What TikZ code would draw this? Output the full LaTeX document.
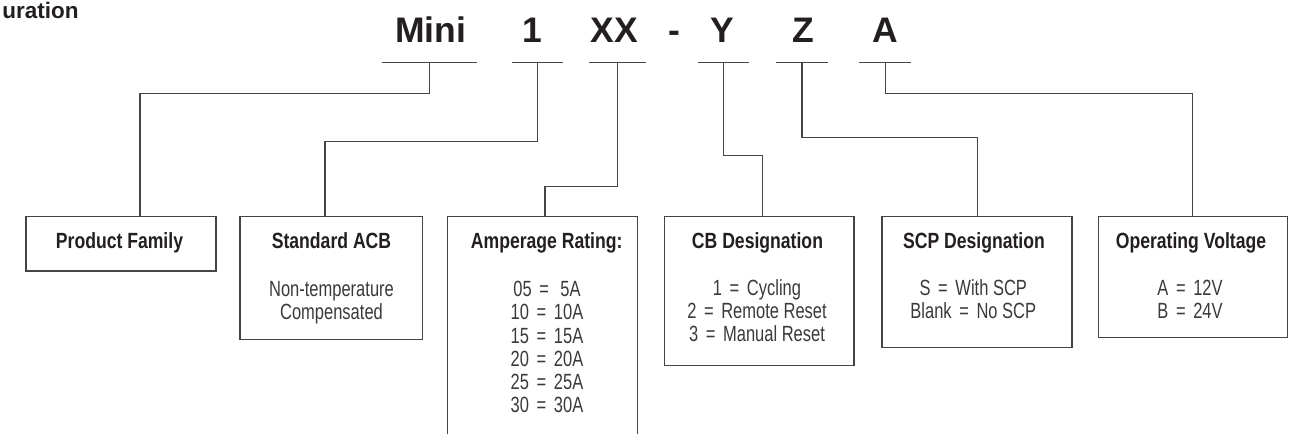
\documentclass[tikz,border=0pt]{standalone}
\usepackage{fontspec}
\setmainfont{Liberation Sans}
\newfontfamily\titlecond[FakeStretch=0.8]{Liberation Sans}
\newfontfamily\bodycond[FakeStretch=0.75]{Liberation Sans}
\definecolor{ink}{HTML}{231F20}
\definecolor{bodyink}{HTML}{3A3A3A}
\definecolor{lineink}{HTML}{454545}
\newcommand{\bodylines}[1]{\begin{tabular}[t]{@{}c@{}}#1\end{tabular}}
\newcommand{\eqs}{\hspace{3.8pt}=\hspace{3.8pt}}
\begin{document}
\begin{tikzpicture}[x=0.5pt,y=-0.5pt,
  box/.style={draw=lineink, line width=0.75pt, anchor=north west, inner sep=0pt, outer sep=0pt},
  conn/.style={draw=lineink, line width=0.6pt},
  barline/.style={draw=lineink, line width=0.6pt},
  code/.style={font=\bfseries\fontsize{17.75}{20}\selectfont, text=ink, anchor=base, inner sep=0pt},
  barnode/.style={inner sep=0pt, outer sep=0pt, minimum height=0pt},
  title/.style={font=\titlecond\bfseries\fontsize{11}{13}\selectfont, text=ink, anchor=base, inner sep=0pt},
  body/.style={font=\bodycond\fontsize{11}{11.6}\selectfont, text=bodyink, anchor=base, inner sep=0pt},
]
\useasboundingbox (0,0) rectangle (1302,434);
\clip (0,0) rectangle (1302,434);

% heading fragment
\node[font=\bfseries\fontsize{11.25}{13}\selectfont, text=ink, anchor=base east, inner sep=0pt] (head) at (79,18.3) {uration};

% code letters
\node[code] (tMini) at (430.8,42.7) {Mini};
\node[code] (tOne)  at (532,42.7) {1};
\node[code] (tXX)   at (614,42.7) {XX};
\node[code] (tDash) at (674,42.7) {-};
\node[code] (tY)    at (722,42.7) {Y};
\node[code] (tZ)    at (803.5,42.7) {Z};
\node[code] (tA)    at (885,42.7) {A};

% underline bars
\node[barnode, minimum width=47.5pt]  (bMini) at (429.2,62.7) {};
\node[barnode, minimum width=25.8pt]  (bOne)  at (537.5,62.7) {};
\node[barnode, minimum width=28.35pt] (bXX)   at (617.6,62.7) {};
\node[barnode, minimum width=25.8pt]  (bY)    at (723.5,62.7) {};
\node[barnode, minimum width=25.85pt] (bZ)    at (801.9,62.7) {};
\node[barnode, minimum width=25.85pt] (bA)    at (885.2,62.7) {};
\foreach \b in {bMini,bOne,bXX,bY,bZ,bA}{\draw[barline] (\b.west) -- (\b.east);}

% boxes
\node[box, minimum width=95pt,    minimum height=27.15pt]  (PF)  at (26,216.7) {};
\node[box, minimum width=91.35pt, minimum height=61.3pt]   (SA)  at (240,216.7) {};
\node[box, minimum width=95pt,    minimum height=126.65pt] (AMP) at (447.3,216.7) {};
\node[box, minimum width=94.85pt, minimum height=74.5pt]   (CB)  at (664.3,216.7) {};
\node[box, minimum width=95pt,    minimum height=65.5pt]   (SCP) at (882,216.7) {};
\node[box, minimum width=94.7pt,  minimum height=60.3pt]   (OV)  at (1098.3,216.7) {};

% connectors
\draw[conn] (bMini.center) -- ++(0,31)    -| ([xshift=57pt]PF.north west);
\draw[conn] (bOne.center)  -- ++(0,78.8)  -| ([xshift=42.5pt]SA.north west);
\draw[conn] (bXX.center)   -- ++(0,124)   -| ([xshift=48.85pt]AMP.north west);
\draw[conn] (bY.center)    -- ++(0,92.6)  -| ([xshift=49pt]CB.north west);
\draw[conn] (bZ.center)    -- ++(0,75)    -| ([xshift=47.65pt]SCP.north west);
\draw[conn] (bA.center)    -- ++(0,30.6)  -| ([xshift=47.2pt]OV.north west);

% titles
\node[title] (PFt)  at (119.5,248.3) {Product Family};
\node[title] (SAt)  at (331.5,248.3) {Standard ACB};
\node[title] (AMPt) at (546.7,248.3) {Amperage Rating:};
\node[title] (CBt)  at (757.5,248.3) {CB Designation};
\node[title] (SCPt) at (974,248.3) {SCP Designation};
\node[title] (OVt)  at (1191,248.3) {Operating Voltage};

% bodies
\node[body] (SAb)  at (331.5,296) {\bodylines{Non-temperature\\Compensated}};
\node[body] (AMPb) at (547,296.7) {\bodylines{05\eqs\,5A\\10\eqs10A\\15\eqs15A\\20\eqs20A\\25\eqs25A\\30\eqs30A}};
\node[body] (CBb)  at (757,295) {\bodylines{1\eqs Cycling\\2\eqs Remote Reset\\3\eqs Manual Reset}};
\node[body] (SCPb) at (973.3,295) {\bodylines{S\eqs With SCP\\Blank\eqs No SCP}};
\node[body] (OVb)  at (1190,295) {\bodylines{A\eqs 12V\\B\eqs 24V}};
\end{tikzpicture}
\end{document}
